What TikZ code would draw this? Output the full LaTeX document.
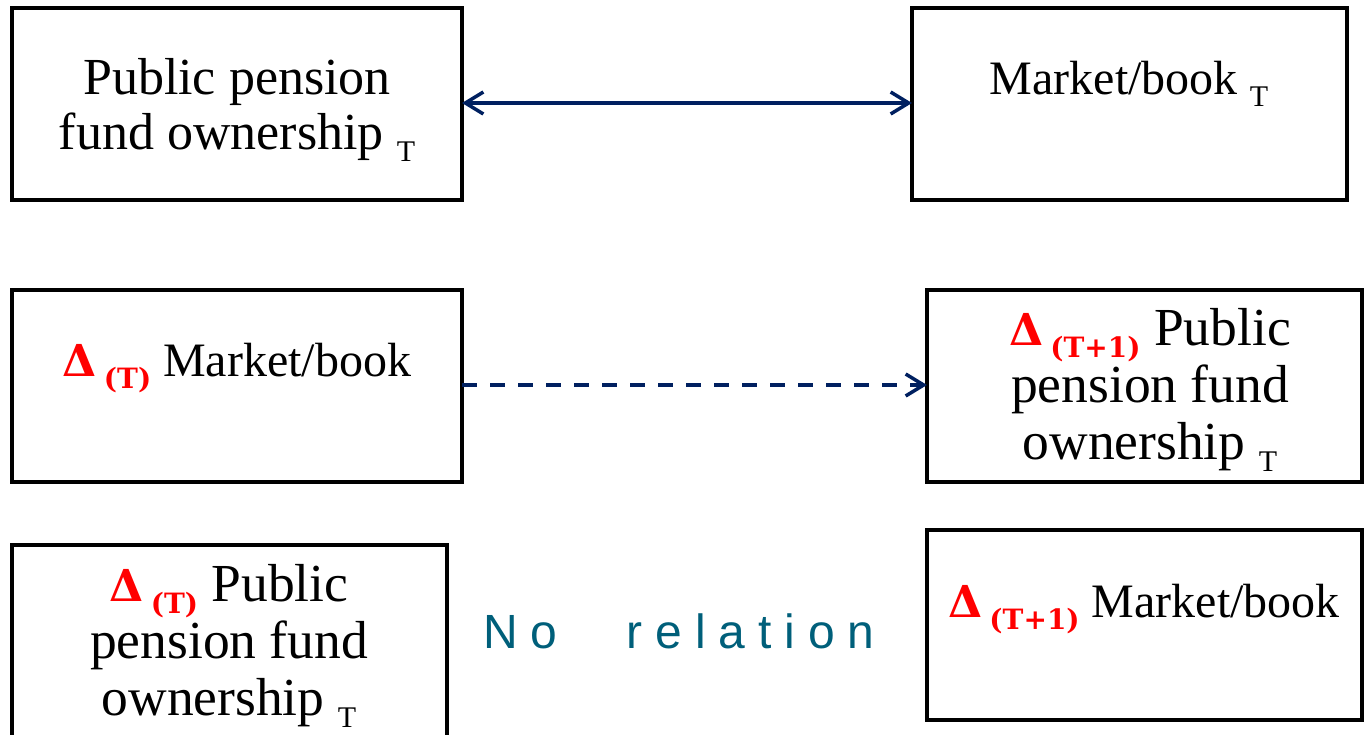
\documentclass[tikz,border=0pt]{standalone}
\usepackage{graphicx}
\usepackage{fontspec}
\setmainfont{Liberation Serif}
\newfontfamily\deltafont{DejaVu Serif}
\newfontfamily\spacedsans[LetterSpace=27]{Liberation Sans}
\usetikzlibrary{arrows.meta}
\definecolor{navy}{HTML}{002060}
\definecolor{tealtext}{HTML}{005F7A}
\definecolor{deltared}{HTML}{FF0000}
% red bold delta with a lowered bold index
\newcommand\dlt[1]{{\color{deltared}\deltafont\bfseries{\fontsize{44}{44}\selectfont\char"0394}\hspace{7pt}\raisebox{-12pt}[0pt][0pt]{\fontsize{28}{28}\selectfont(#1)}}}
% lowered time index T
\newcommand\idxT{\ \raisebox{-12pt}[0pt][0pt]{\fontsize{30}{30}\selectfont T}}
\tikzset{
  barb/.tip={Straight Barb[length=18pt,width=22pt,line width=3.5pt]},
  frame/.style={draw=black, line width=4pt, rectangle, inner sep=0pt, outer sep=0pt},
  label/.style={align=center, inner sep=0pt, font=\fontsize{48}{55}\selectfont},
  biglabel/.style={label, font=\fontsize{53.5}{57}\selectfont},
  link/.style={draw=navy, line width=3.5pt, -barb},
}
\begin{document}
\begin{tikzpicture}[x=1pt,y=-1pt]
\useasboundingbox (0,0) rectangle (1365,735);
% boxes
\node[frame, minimum width=450pt, minimum height=192pt] (A) at (237,104) {};
\node[frame, minimum width=435pt, minimum height=192pt] (B) at (1129.5,104) {};
\node[frame, minimum width=450pt, minimum height=192pt] (C) at (237,386) {};
\node[frame, minimum width=435pt, minimum height=192pt] (D) at (1144.5,386) {};
\node[frame, minimum width=435pt, minimum height=200pt] (E) at (229.5,645) {};
\node[frame, minimum width=435pt, minimum height=190pt] (F) at (1144.5,625) {};
% texts
\node[label, font=\fontsize{52}{55}\selectfont] (tA) at (237,109) {Public pension\\fund ownership\idxT};
\node[label, anchor=base] (tB) at (1129,95) {Market/book\idxT};
\node[label, anchor=base] (tC) at (237,376) {\dlt{T} Market/book};
\node[biglabel] (tD) at (1150,390) {\dlt{T+1} Public\\pension fund\\ownership\idxT};
\node[biglabel] (tE) at (229,645.5) {\dlt{T} Public\\pension fund\\ownership\idxT};
\node[label, anchor=base] (tF) at (1144,617) {\dlt{T+1} Market/book};
\node[anchor=base west, inner sep=0pt, text=tealtext, font=\spacedsans\fontsize{48}{48}\selectfont] (nr) at (483,648) {No\hspace{69pt}relation};
% connectors
\draw[link, barb-barb] (A.east |- 0,103) -- (B.west |- 0,103);
\draw[link, dash pattern=on 15pt off 13pt] (C.east |- 0,385) -- (D.west |- 0,385);
\end{tikzpicture}
\end{document}
